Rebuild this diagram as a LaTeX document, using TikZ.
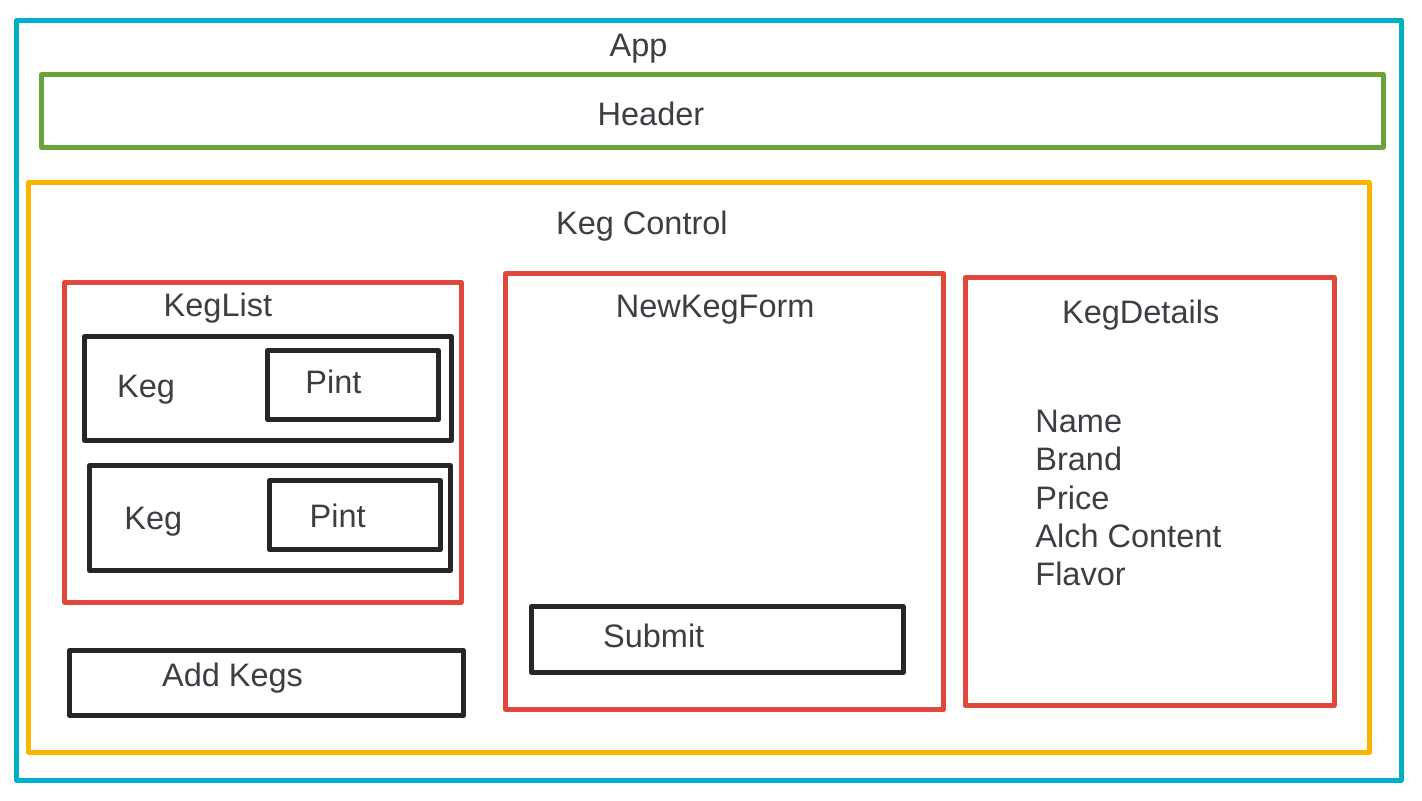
\documentclass[tikz,border=0pt]{standalone}
\usepackage{fontspec}
\setmainfont{Liberation Sans}
\definecolor{appc}{HTML}{00AFC6}
\definecolor{hdrc}{HTML}{6AA23C}
\definecolor{ctlc}{HTML}{F7B500}
\definecolor{redc}{HTML}{E0483C}
\definecolor{blkc}{HTML}{262626}
\definecolor{txtc}{HTML}{3B3F43}
\tikzset{
  frame/.style={line width=2.5pt, line join=round},
  lbl/.style={anchor=base west, inner sep=0pt, text=txtc, font=\fontsize{16.25}{19.5}\selectfont},
}
\begin{document}
\begin{tikzpicture}[x=0.5pt,y=-0.5pt]
\useasboundingbox (0,0) rectangle (1422,800);
% boxes
\draw[frame, appc] (16.5,20) rectangle (1401,780);
\draw[frame, hdrc] (41.5,74.5) rectangle (1383,147.5);
\draw[frame, ctlc] (28.5,182.5) rectangle (1369.5,752);
\draw[frame, redc] (64.5,282.5) rectangle (461,602);
\draw[frame, blkc] (84.5,336.5) rectangle (451.5,440.5);
\draw[frame, blkc] (267.5,350.5) rectangle (438.5,419.5);
\draw[frame, blkc] (89.5,465.5) rectangle (450.5,570.5);
\draw[frame, blkc] (269.5,480.5) rectangle (440.5,549.5);
\draw[frame, blkc] (69.5,650.5) rectangle (463.5,715.5);
\draw[frame, redc] (505.5,273.5) rectangle (943.5,709.5);
\draw[frame, blkc] (531.5,606.5) rectangle (903,672.5);
\draw[frame, redc] (965.5,277.5) rectangle (1334,705.5);
% labels
\node[lbl] (tapp) at (609.3,56) {App};
\node[lbl] (thdr) at (597.3,125) {Header};
\node[lbl] (tctl) at (555.7,234) {Keg Control};
\node[lbl] (tlist) at (163.3,316.5) {KegList};
\node[lbl] (tkeg1) at (116.7,397.5) {Keg};
\node[lbl] (tpint1) at (305,393.5) {Pint};
\node[lbl] (tkeg2) at (124,529) {Keg};
\node[lbl] (tpint2) at (309.3,527.5) {Pint};
\node[lbl] (tadd) at (161.7,686) {Add Kegs};
\node[lbl] (tform) at (615.5,317.5) {NewKegForm};
\node[lbl] (tsub) at (602.7,647.5) {Submit};
\node[lbl] (tdet) at (1061.7,323) {KegDetails};
\node[lbl] (tname) at (1035,432.5) {Name};
\node[lbl] (tbrand) at (1035,470.6) {Brand};
\node[lbl] (tprice) at (1035,509) {Price};
\node[lbl] (talch) at (1035,547.4) {Alch Content};
\node[lbl] (tflav) at (1035,585.8) {Flavor};
\end{tikzpicture}
\end{document}
